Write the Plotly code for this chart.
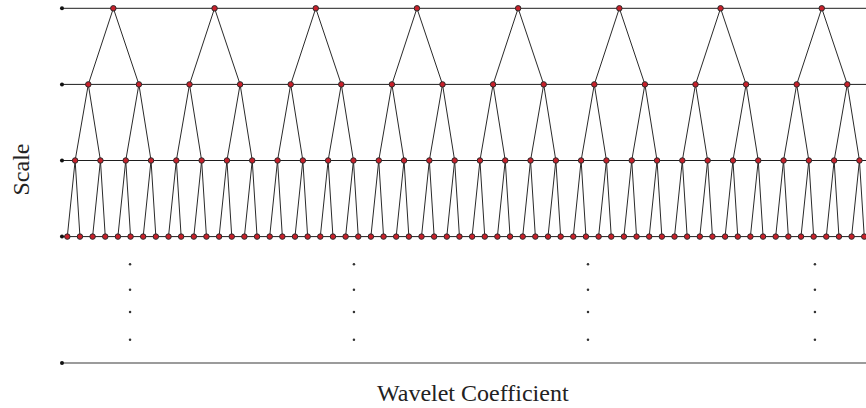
import plotly.graph_objects as go

# ---- data (coefficient units: bottom-level spacing = 1) ----
top_node_count = 8
level_scale = [4, 3, 2, 1]            # scale value of each tree row (top -> bottom)
level_spacing = [8, 4, 2, 1]          # coefficient spacing of nodes in each row
level_offset = [3.64, 1.66, 0.62, 0.0]  # position of first node in each row
line_start = -0.42
line_end = 63.2
ellipsis_x = [4.96, 22.66, 41.16, 59.1]
ellipsis_y = [0.637, 0.30, 0.01, -0.357]
bottom_scale = -0.66

x_label = "Wavelet Coefficient"
y_label = "Scale"

# ---- build node positions ----
rows = []
for li, (s, sp, off) in enumerate(zip(level_scale, level_spacing, level_offset)):
    n = top_node_count * (2 ** li)
    rows.append(([off + sp * k for k in range(n)], [s] * n))

fig = go.Figure()

# horizontal scale lines
hx, hy = [], []
for s in level_scale:
    hx += [line_start, line_end, None]
    hy += [s, s, None]
fig.add_trace(go.Scatter(x=hx, y=hy, mode="lines", cliponaxis=False,
                         line=dict(color="#1e1e1e", width=1), hoverinfo="skip"))
# bottom (grey) line
fig.add_trace(go.Scatter(x=[line_start, line_end], y=[bottom_scale, bottom_scale],
                         mode="lines", cliponaxis=False,
                         line=dict(color="#7a7a7a", width=1.6),
                         hoverinfo="skip"))

# tree edges
ex, ey = [], []
for li in range(len(rows) - 1):
    px, py = rows[li]
    cx, cy = rows[li + 1]
    for k in range(len(px)):
        for c in (2 * k, 2 * k + 1):
            ex += [px[k], cx[c], None]
            ey += [py[k], cy[c], None]
fig.add_trace(go.Scatter(x=ex, y=ey, mode="lines", cliponaxis=False,
                         line=dict(color="#2a2a2a", width=1), hoverinfo="skip"))

# left start dots
fig.add_trace(go.Scatter(x=[line_start] * (len(level_scale) + 1),
                         y=level_scale + [bottom_scale], mode="markers",
                         cliponaxis=False,
                         marker=dict(color="#111111", size=4), hoverinfo="skip"))

# nodes
nx, ny = [], []
for xs, ys in rows:
    nx += xs
    ny += ys
fig.add_trace(go.Scatter(x=nx, y=ny, mode="markers", cliponaxis=False,
                         marker=dict(color="#c8202a", size=5.5,
                                     line=dict(color="#2a2a2a", width=1)),
                         hoverinfo="skip"))

# vertical ellipsis dots
dx, dy = [], []
for xv in ellipsis_x:
    for yv in ellipsis_y:
        dx.append(xv)
        dy.append(yv)
fig.add_trace(go.Scatter(x=dx, y=dy, mode="markers",
                         marker=dict(color="#333333", size=2.5), hoverinfo="skip"))

u = 12.65   # px per coefficient
x0_px = 67.3
row_px = 76.1
top_px = 8.3
x_range = [-x0_px / u, (866 - x0_px) / u]
y_top = level_scale[0] + top_px / row_px
y_range = [y_top - 408 / row_px, y_top]

fig.add_annotation(text=x_label, x=(473 - x0_px) / u, y=y_top - 393 / row_px,
                   xref="x", yref="y", showarrow=False,
                   font=dict(family="Liberation Serif", size=24, color="#222222"))
fig.add_annotation(text=y_label, x=(20.5 - x0_px) / u, y=y_top - 170 / row_px,
                   xref="x", yref="y", showarrow=False, textangle=-90,
                   font=dict(family="Liberation Serif", size=24, color="#222222"))

fig.update_layout(
    width=866, height=408,
    margin=dict(l=0, r=0, t=0, b=0),
    paper_bgcolor="white", plot_bgcolor="white",
    showlegend=False,
    xaxis=dict(range=x_range, visible=False, fixedrange=True),
    yaxis=dict(range=y_range, visible=False, fixedrange=True),
)

fig.write_html("out.html", config={"displayModeBar": False},
               post_script="document.body.style.margin='0';")
